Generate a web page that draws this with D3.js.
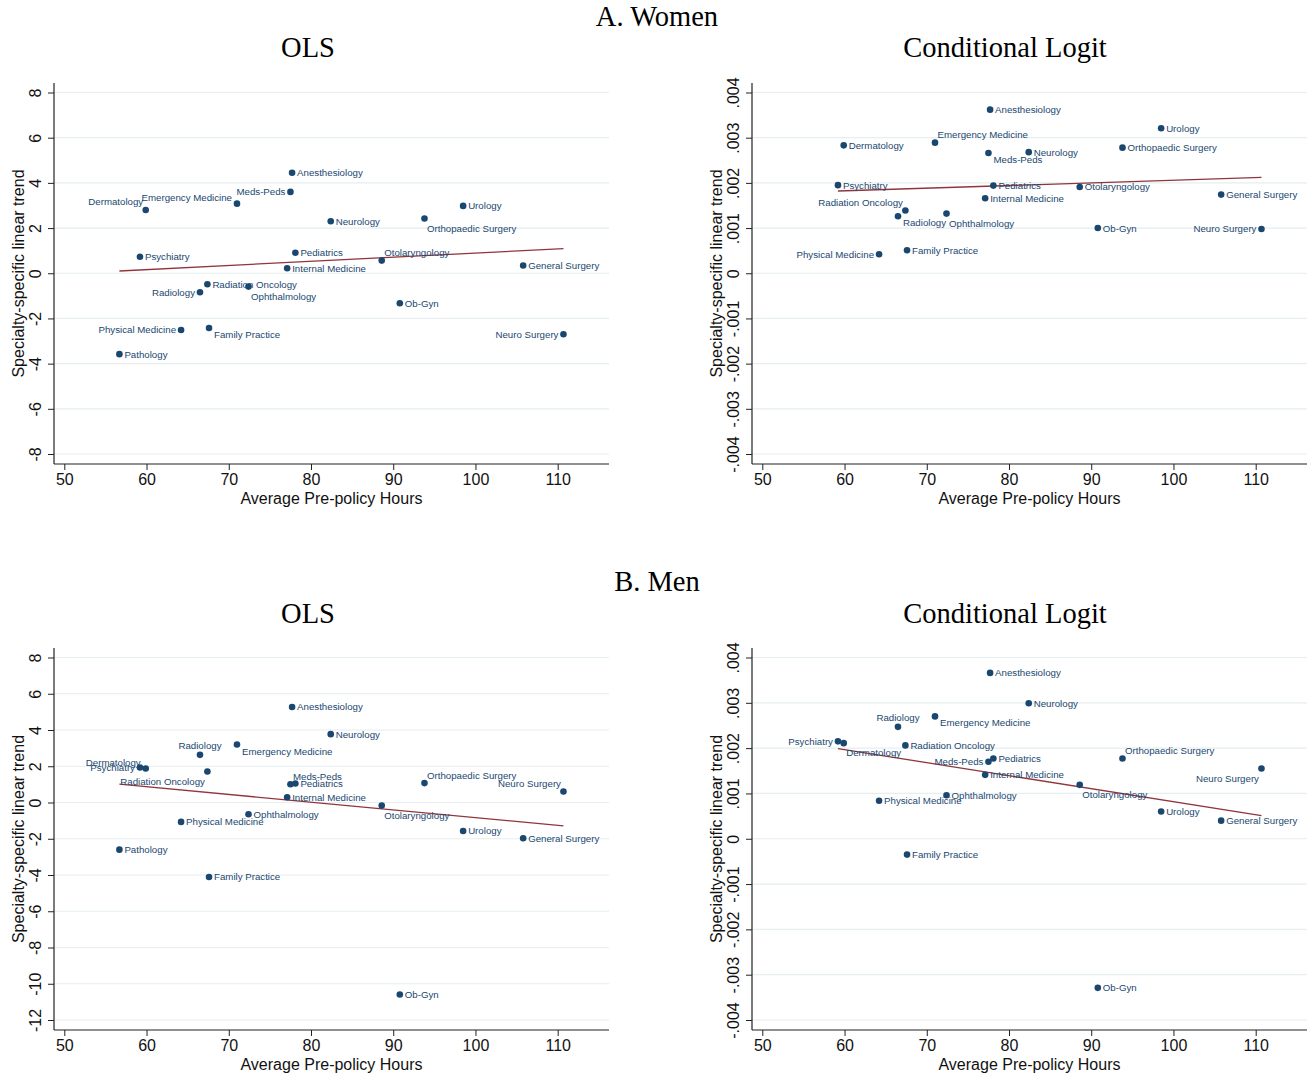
<!DOCTYPE html>
<html>
<head>
<meta charset="utf-8">
<script src="https://cdn.jsdelivr.net/npm/d3@7"></script>
<style>
  body { margin: 0; background: #fff; }
  svg { display: block; }
</style>
</head>
<body>
<div id="chart"></div>
<script>
// Fachrichtungen und durchschnittliche Arbeitsstunden vor der Reform
const specialties = ["Anesthesiology", "Dermatology", "Emergency Medicine", "Family Practice", "General Surgery",
  "Internal Medicine", "Meds-Peds", "Neurology", "Neuro Surgery", "Ob-Gyn", "Ophthalmology", "Orthopaedic Surgery",
  "Otolaryngology", "Pathology", "Pediatrics", "Physical Medicine", "Psychiatry", "Radiation Oncology", "Radiology", "Urology"];
const hours = [77.7, 59.9, 71.0, 67.6, 105.8, 77.1, 77.5, 82.4, 110.7, 90.8, 72.4, 93.8, 88.6, 56.7, 78.1, 64.2, 59.2, 67.4, 66.5, 98.5];

// Trends (Pathology fehlt im Conditional Logit)
const womenOLS = [4.45, 2.80, 3.08, -2.42, 0.34, 0.22, 3.60, 2.30, -2.70, -1.33, -0.59, 2.42, 0.56, -3.58, 0.91, -2.51, 0.73, -0.49, -0.84, 2.98];
const womenCL = [0.00362, 0.00283, 0.00289, 0.00051, 0.00174, 0.00166, 0.00266, 0.00268, 0.00098, 0.00100, 0.00132, 0.00278, 0.00191, null, 0.00194, 0.00042, 0.00195, 0.00139, 0.00126, 0.00321];
const menOLS = [5.27, 1.88, 3.20, -4.11, -1.97, 0.29, 1.01, 3.77, 0.61, -10.59, -0.65, 1.07, -0.17, -2.60, 1.05, -1.07, 1.93, 1.71, 2.63, -1.57];
const menCL = [0.00366, 0.00211, 0.00270, -0.00035, 0.00040, 0.00141, 0.00170, 0.00299, 0.00155, -0.00329, 0.00096, 0.00177, 0.00119, null, 0.00177, 0.00084, 0.00215, 0.00206, 0.00247, 0.00060];

// Fit-Linie: Werte am kleinsten bzw. größten x
const fitWomenOLS = [0.10, 1.09];
const fitWomenCL = [0.00182, 0.00212];
const fitMenOLS = [1.01, -1.29];
const fitMenCL = [0.00199, 0.00051];

// Achsen
const xTicks = [50, 60, 70, 80, 90, 100, 110];
const olsWomenTicks = [-8, -6, -4, -2, 0, 2, 4, 6, 8];
const olsMenTicks = [-12, -10, -8, -6, -4, -2, 0, 2, 4, 6, 8];
const clTicks = [-0.004, -0.003, -0.002, -0.001, 0, 0.001, 0.002, 0.003, 0.004];

// Label-Positionen (Uhr wie in Stata, Standard 3)
const posWomenOLS = { "Dermatology": 11, "Emergency Medicine": 10, "Meds-Peds": 9, "Orthopaedic Surgery": 5, "Otolaryngology": 1,
  "Radiology": 9, "Ophthalmology": 5, "Physical Medicine": 9, "Family Practice": 4, "Neuro Surgery": 9 };
const posWomenCL = { "Emergency Medicine": 1, "Meds-Peds": 4, "Radiation Oncology": 11, "Radiology": 4, "Ophthalmology": 5,
  "Neuro Surgery": 9, "Physical Medicine": 9 };
const posMenOLS = { "Radiology": 12, "Emergency Medicine": 4, "Dermatology": 10, "Psychiatry": 9, "Radiation Oncology": 7,
  "Meds-Peds": 1, "Orthopaedic Surgery": 1, "Neuro Surgery": 11, "Otolaryngology": 5 };
const posMenCL = { "Radiology": 12, "Emergency Medicine": 4, "Psychiatry": 9, "Dermatology": 5, "Meds-Peds": 9,
  "Orthopaedic Surgery": 1, "Neuro Surgery": 7, "Otolaryngology": 5 };

const clock = {
  1: [2.5, -8, "start"], 2: [5, -6, "start"], 3: [5, 0, "start"], 4: [5, 6.5, "start"], 5: [2.5, 9.5, "start"],
  6: [0, 9, "middle"], 7: [-2.5, 9.5, "end"], 8: [-5, 6, "end"], 9: [-5, 0, "end"], 10: [-5, -6, "end"],
  11: [-2.5, -8, "end"], 12: [0, -9, "middle"]
};

const navy = "#1a476f";
const maroon = "#90353b";
const grid = "#e5eef0";
const sans = "'Liberation Sans', Arial, Helvetica, sans-serif";
const serif = "'Liberation Serif', 'DejaVu Serif', serif";

const svg = d3.select("#chart").append("svg")
  .attr("width", 1315).attr("height", 1076);

// Stata-Format: .004 statt 0.004, normales Minus
const fmtOLS = d => String(d);
const fmtCL = d => d === 0 ? "0" : d3.format(".3f")(d).replace("\u2212", "-").replace("0.", ".");

// Überschriften
svg.append("text").attr("x", 657).attr("y", 26).attr("text-anchor", "middle")
  .style("font-family", serif).style("font-size", "28.5px").text("A. Women");
svg.append("text").attr("x", 657).attr("y", 591).attr("text-anchor", "middle")
  .style("font-family", serif).style("font-size", "28.5px").text("B. Men");

const panels = [
  { title: "OLS", cx: 308, ty: 57, L: 54, R: 609, T: 83, B: 464, vals: womenOLS, fit: fitWomenOLS, ticks: olsWomenTicks, fmt: fmtOLS, pos: posWomenOLS },
  { title: "Conditional Logit", cx: 1005, ty: 57, L: 752, R: 1307, T: 83, B: 464, vals: womenCL, fit: fitWomenCL, ticks: clTicks, fmt: fmtCL, pos: posWomenCL },
  { title: "OLS", cx: 308, ty: 623, L: 54, R: 609, T: 648, B: 1030, vals: menOLS, fit: fitMenOLS, ticks: olsMenTicks, fmt: fmtOLS, pos: posMenOLS },
  { title: "Conditional Logit", cx: 1005, ty: 623, L: 752, R: 1307, T: 648, B: 1030, vals: menCL, fit: fitMenCL, ticks: clTicks, fmt: fmtCL, pos: posMenCL }
];

panels.forEach(p => {
  const g = svg.append("g");

  const xScale = d3.scaleLinear().domain([50, 110]).range([p.L + 10.3, p.L + 503.7]);
  const yScale = d3.scaleLinear().domain(d3.extent(p.ticks)).range([p.B - 10, p.T + 9.5]);

  // Titel
  g.append("text").attr("x", p.cx).attr("y", p.ty).attr("text-anchor", "middle")
    .style("font-family", serif).style("font-size", "28.5px").text(p.title);

  // Gitterlinien
  g.selectAll(".grid").data(p.ticks).enter().append("line")
    .attr("x1", p.L).attr("x2", p.R)
    .attr("y1", d => yScale(d)).attr("y2", d => yScale(d))
    .attr("stroke", grid).attr("stroke-width", 1.2);

  // y-Achse
  const yAxis = g.append("g").attr("transform", `translate(${p.L},0)`)
    .call(d3.axisLeft(yScale).tickValues(p.ticks).tickFormat(p.fmt).tickSize(6).tickPadding(0));
  yAxis.select(".domain").remove();
  yAxis.selectAll(".tick line").attr("stroke", "#222");
  yAxis.selectAll(".tick text")
    .attr("x", 0).attr("dy", null)
    .attr("transform", "translate(-19,0) rotate(-90)")
    .attr("text-anchor", "middle").attr("dominant-baseline", "central")
    .style("font-family", sans).style("font-size", "16px").attr("fill", "#111");
  g.append("line").attr("x1", p.L).attr("x2", p.L).attr("y1", p.T).attr("y2", p.B)
    .attr("stroke", "#222").attr("stroke-width", 1.2);

  // x-Achse
  const xAxis = g.append("g").attr("transform", `translate(0,${p.B})`)
    .call(d3.axisBottom(xScale).tickValues(xTicks).tickSize(6).tickPadding(4));
  xAxis.select(".domain").remove();
  xAxis.selectAll(".tick line").attr("stroke", "#222");
  xAxis.selectAll(".tick text")
    .style("font-family", sans).style("font-size", "16px").attr("fill", "#111");
  g.append("line").attr("x1", p.L).attr("x2", p.R).attr("y1", p.B).attr("y2", p.B)
    .attr("stroke", "#222").attr("stroke-width", 1.2);

  // Achsentitel
  g.append("text").attr("x", (p.L + p.R) / 2).attr("y", p.B + 40).attr("text-anchor", "middle")
    .style("font-family", sans).style("font-size", "16px").attr("fill", "#111")
    .text("Average Pre-policy Hours");
  g.append("text").attr("transform", `translate(${p.L - 36},${(p.T + p.B) / 2}) rotate(-90)`)
    .attr("text-anchor", "middle").attr("dominant-baseline", "central")
    .style("font-family", sans).style("font-size", "16px").attr("fill", "#111")
    .text("Specialty-specific linear trend");

  const pts = specialties.map((s, i) => ({ name: s, x: hours[i], y: p.vals[i] }))
    .filter(d => d.y !== null);

  // Fit-Linie
  const ext = d3.extent(pts, d => d.x);
  g.append("line")
    .attr("x1", xScale(ext[0])).attr("y1", yScale(p.fit[0]))
    .attr("x2", xScale(ext[1])).attr("y2", yScale(p.fit[1]))
    .attr("stroke", maroon).attr("stroke-width", 1.3);

  // Punkte
  g.selectAll(".pt").data(pts).enter().append("circle")
    .attr("cx", d => xScale(d.x)).attr("cy", d => yScale(d.y))
    .attr("r", 3.3).attr("fill", navy);

  // Beschriftung
  g.selectAll(".lbl").data(pts).enter().append("text")
    .attr("x", d => xScale(d.x) + clock[p.pos[d.name] || 3][0])
    .attr("y", d => yScale(d.y) + clock[p.pos[d.name] || 3][1])
    .attr("text-anchor", d => clock[p.pos[d.name] || 3][2])
    .attr("dominant-baseline", "central")
    .style("font-family", sans).style("font-size", "9.7px").attr("fill", navy)
    .text(d => d.name);
});
</script>
</body>
</html>
